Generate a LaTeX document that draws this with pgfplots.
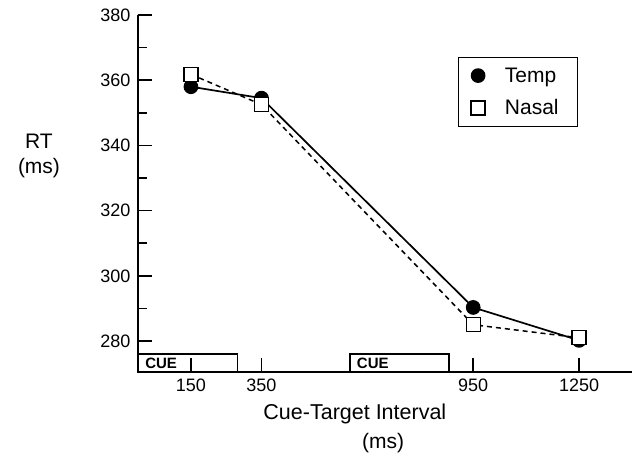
\documentclass[border=0pt]{standalone}
\usepackage{fontspec}
\setmainfont{Liberation Sans}
\usepackage{pgfplots}
\pgfplotsset{compat=1.18}

\begin{document}
\begin{tikzpicture}
  \useasboundingbox (-138pt,-104pt) rectangle (494pt,372pt);
  \begin{axis}[
      scale only axis,
      width=494pt, height=357pt,
      xmin=0, xmax=1400,
      ymin=270.5, ymax=380,
      axis x line=bottom, axis y line=left,
      axis line style={line width=2.5pt, -},
      xtick={150,350,950,1250},
      ytick={280,300,...,380},
      minor y tick num=1,
      tick align=inside,
      major tick length=14pt, minor tick length=9pt,
      tick style={line width=1.5pt, black},
      x tick label style={yshift=-3pt},
      y tick label style={xshift=-4pt},
      tick label style={font=\fontsize{18}{22}\selectfont},
      /pgf/number format/assume math mode=true,
      /pgf/number format/set thousands separator={},
      legend style={at={(0.891,0.882)}, anchor=north east, draw=black, line width=1pt,
        font=\fontsize{21}{24}\selectfont, inner xsep=4pt, inner ysep=8pt, row sep=12pt},
      legend cell align=left,
      legend image code/.code={\draw[#1, only marks] plot coordinates {(0pt,0pt)}; \path (-15pt,0pt) (24pt,0pt);},
      clip=false,
    ]
    % cue boxes
    \draw[line width=1.8pt] (axis cs:0,270.5) rectangle (axis cs:282,276);
    \draw[line width=1.8pt] (axis cs:600,270.5) rectangle (axis cs:882,276);
    \node[anchor=south west, font=\fontsize{15}{16}\selectfont\bfseries, inner sep=0pt] at (axis cs:20,271.6) {CUE};
    \node[anchor=south west, font=\fontsize{15}{16}\selectfont\bfseries, inner sep=0pt] at (axis cs:620,271.6) {CUE};

    \addplot[black, line width=1.7pt, mark=*, mark size=6.5pt]
      coordinates {(150,358) (350,354.5) (950,290.3) (1250,280.2)};
    \addlegendentry{Temp\kern13pt}
    \addplot[black, line width=1.5pt, dashed, dash pattern=on 5pt off 4pt, mark=square*,
      mark size=7pt, mark options={solid, fill=white, line width=1.3pt}]
      coordinates {(150,361.8) (350,352.5) (950,285) (1250,281)};
    \addlegendentry{Nasal\kern13pt}

    \node[align=center, font=\fontsize{21}{25}\selectfont] at ([xshift=-99pt]rel axis cs:0,0.605) {RT\\(ms)};
    \node[font=\fontsize{21.5}{25}\selectfont] at ([yshift=-42pt]rel axis cs:0.439,0) {Cue-Target Interval};
    \node[font=\fontsize{21}{25}\selectfont] at ([yshift=-71pt]rel axis cs:0.496,0) {(ms)};
  \end{axis}
\end{tikzpicture}
\end{document}
